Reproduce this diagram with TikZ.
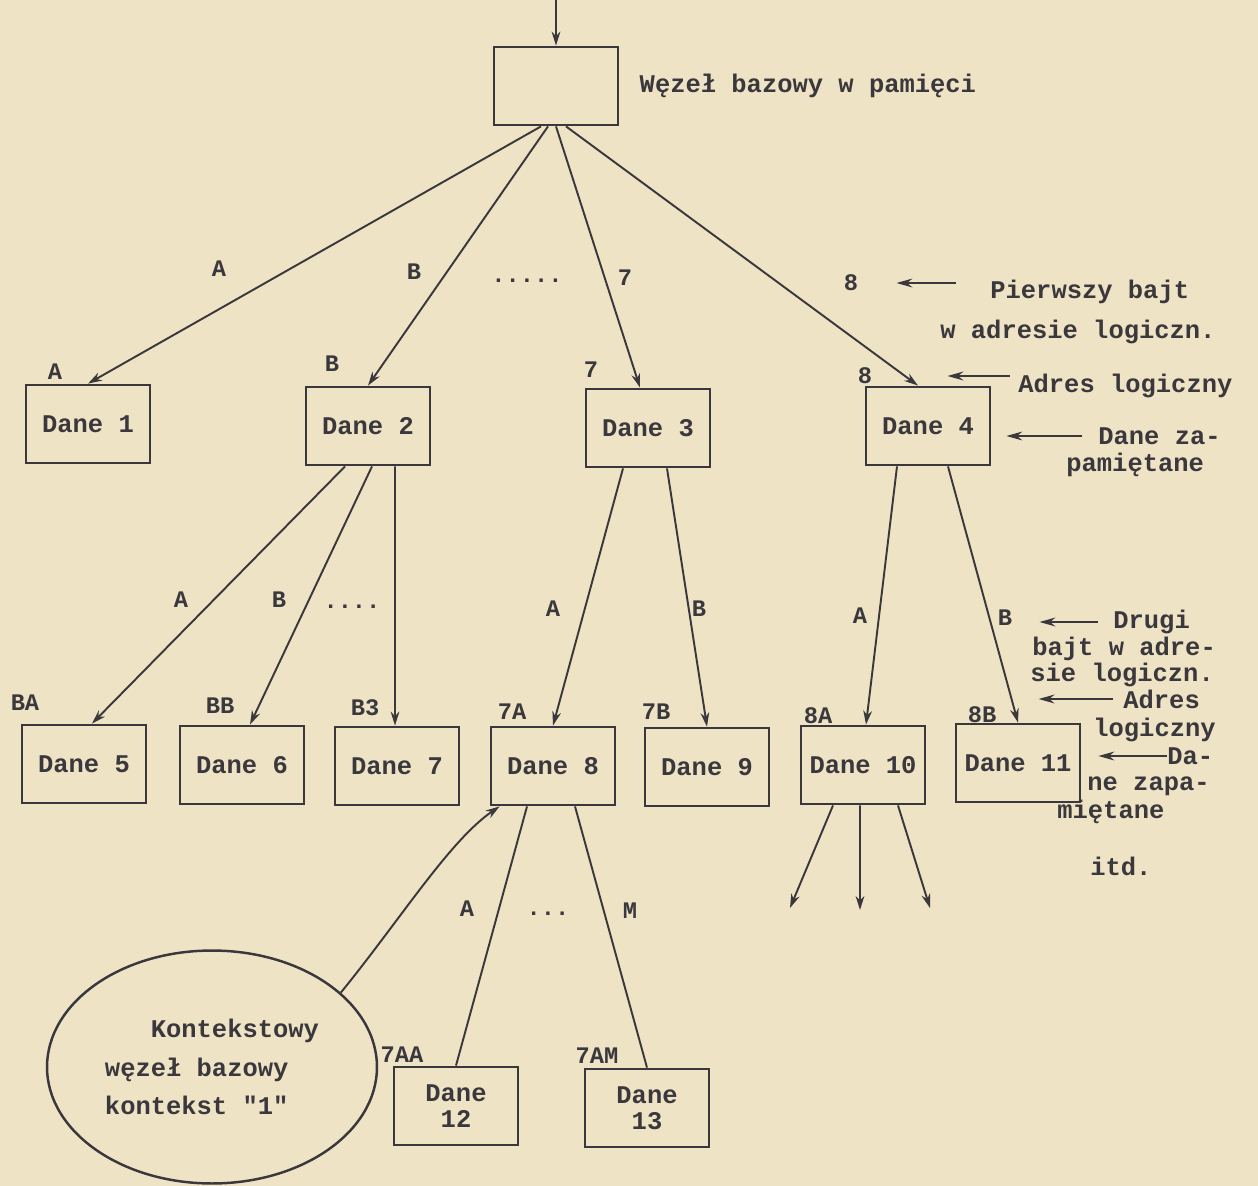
\documentclass[tikz,border=0pt]{standalone}
\usepackage{fontspec}
\setmonofont{Liberation Mono}
\usetikzlibrary{arrows.meta, positioning, calc, shapes.geometric}
\definecolor{PaperTone}{RGB}{239, 227, 198}
\definecolor{InkGray}{RGB}{58, 56, 60}

\tikzset{
  dane/.style={draw=InkGray, line width=1.6pt, minimum width=2.48cm, minimum height=1.56cm,
    inner sep=0pt, align=center, text=InkGray, font=\ttfamily\bfseries\fontsize{14.5}{15}\selectfont},
  ctx/.style={ellipse, draw=InkGray, line width=1.4pt, minimum width=6.6cm, minimum height=4.66cm,
    inner sep=0pt, align=left, text=InkGray, font=\ttfamily\bfseries\fontsize{14.5}{22}\selectfont},
  link/.style={draw=InkGray, line width=1.1pt},
  tip/.style={-{Stealth[length=8pt, width=5pt]}},
  tag/.style={inner sep=0pt, text=InkGray, font=\ttfamily\bfseries\fontsize{13.5}{14}\selectfont},
  note/.style={anchor=west, inner sep=0pt, text=InkGray, font=\ttfamily\bfseries\fontsize{14.5}{15}\selectfont},
  ptr/.style={draw=InkGray, line width=1.3pt, -{Stealth[length=9pt, width=5pt]}}
}

\begin{document}
\begin{tikzpicture}[x=0.02cm, y=-0.02cm]
  \fill[PaperTone] (0,0) rectangle (1258,1186);
  \useasboundingbox (0,0) rectangle (1258,1186);

  % base node
  \node[dane] (root) at (556,86) {};
  \node[note, right=0.4cm of root] (rootlbl) {Węzeł bazowy w pamięci};
  \coordinate (feed) at (556,0);
  \draw[link, tip] (feed) -- (root.north);

  % boxes
  \node[dane] (d1) at (88,424) {Dane 1};
  \node[dane] (d2) at (368,426) {Dane 2};
  \node[dane] (d3) at (648,428) {Dane 3};
  \node[dane] (d4) at (928,426) {Dane 4};
  \node[dane] (d5) at (84,764) {Dane 5};
  \node[dane] (d6) at (242,765) {Dane 6};
  \node[dane] (d7) at (397,766) {Dane 7};
  \node[dane] (d8) at (553,766) {Dane 8};
  \node[dane] (d9) at (707,767) {Dane 9};
  \node[dane] (d10) at (863,765) {Dane 10};
  \node[dane] (d11) at (1018,763) {Dane 11};
  \node[dane] (d12) at (456,1106) {Dane\\12};
  \node[dane] (d13) at (647,1108) {Dane\\13};
  \node[ctx] (kon) at (212,1067) {\phantom{xxx}Kontekstowy\\węzeł bazowy\\kontekst "1"};

  % address tags
  \node[tag] (tA) at (55,372) {A};
  \node[tag] (tB) at (332,364) {B};
  \node[tag] (t7) at (591,370) {7};
  \node[tag] (t8) at (865,376) {8};
  \node[tag] (tBA) at (25,703) {BA};
  \node[tag] (tBB) at (220,706) {BB};
  \node[tag] (tB3) at (365,708) {B3};
  \node[tag] (t7A) at (512,712) {7A};
  \node[tag] (t7B) at (656,712) {7B};
  \node[tag] (t8A) at (818,716) {8A};
  \node[tag] (t8B) at (982,715) {8B};
  \node[tag] (t7AA) at (402,1055) {7AA};
  \node[tag] (t7AM) at (597,1056) {7AM};

  % edge labels
  \node[tag] (eA1) at (219,269) {A};
  \node[tag] (eB1) at (414,272) {B};
  \node[tag] (dots1) at (527,281) {.....};
  \node[tag] (l7) at (625,278) {7};
  \node[tag] (l8) at (851,283) {8};
  \node[tag] (eA2) at (181,600) {A};
  \node[tag] (eB2) at (279,600) {B};
  \node[tag] (dots2) at (352,607) {....};
  \node[tag] (eA3) at (553,609) {A};
  \node[tag] (eB3) at (699,609) {B};
  \node[tag] (eA4) at (860,616) {A};
  \node[tag] (eB4) at (1005,618) {B};
  \node[tag] (eA5) at (467,909) {A};
  \node[tag] (dots3) at (548,914) {...};
  \node[tag] (eM5) at (630,911) {M};

  % tree edges
  \draw[link, tip] ([xshift=-0.3cm]root.south) -- (d1.north);
  \draw[link, tip] ([xshift=-0.16cm]root.south) -- (d2.north);
  \draw[link, tip] (root.south) -- ([xshift=-0.16cm]d3.north);
  \draw[link, tip] ([xshift=0.2cm]root.south) -- ([xshift=-0.2cm]d4.north);
  \draw[link, tip] ([xshift=-0.46cm]d2.south) -- ([xshift=0.16cm]d5.north);
  \draw[link, tip] ([xshift=0.08cm]d2.south) -- ([xshift=0.16cm]d6.north);
  \draw[link, tip] ([xshift=0.54cm]d2.south) -- ([xshift=-0.04cm]d7.north);
  \draw[link, tip] ([xshift=-0.5cm]d3.south) -- (d8.north);
  \draw[link, tip] ([xshift=0.38cm]d3.south) -- (d9.north);
  \draw[link, tip] ([xshift=-0.62cm]d4.south) -- ([xshift=0.06cm]d10.north);
  \draw[link, tip] ([xshift=0.4cm]d4.south) -- (d11.north);
  \draw[link] ([xshift=-0.52cm]d8.south) -- (d12.north);
  \draw[link] ([xshift=0.44cm]d8.south) -- (d13.north);

  % loose ends
  \coordinate (o1) at (790,908);
  \coordinate (o2) at (860,910);
  \coordinate (o3) at (930,908);
  \draw[link, tip] ([xshift=-0.6cm]d10.south) -- (o1);
  \draw[link, tip] ([xshift=-0.06cm]d10.south) -- (o2);
  \draw[link, tip] ([xshift=0.7cm]d10.south) -- (o3);

  % context link
  \draw[link, tip] (kon.30) .. controls (400,920) and (450,840) .. ([xshift=0.2cm]d8.south west);

  % notes
  \node[note] (nPb) at (990,292) {Pierwszy bajt};
  \node[note] (nWa) at (940,332) {w adresie logiczn.};
  \node[note] (nAl) at (1018,386) {Adres logiczny};
  \node[note] (nDz) at (1098,436) {Dane za-};
  \node[note] (nPa) at (1066,465) {pamiętane};
  \foreach \nm/\x/\y/\t in {nDr/1113/622/Drugi, nBw/1032/649/bajt w adre-, nSl/1030/675/sie logiczn.,
      nAd/1123/699/Adres, nLg/1093/730/logiczny, nDa/1167/756/Da-, nNz/1087/786/ne zapa-,
      nMt/1057/812/miętane, nItd/1090/866/itd.}
    \node[note] (\nm) at (\x,\y) {\t};

  \draw[ptr, shorten <=0.68cm, shorten >=0.76cm] (l8.east -| nPb.west) -- (l8.east);
  \draw[ptr, shorten <=0.16cm, shorten >=1.5cm] (t8.east -| nAl.west) -- (t8.east);
  \draw[ptr, shorten <=0.32cm, shorten >=0.3cm] (nDz.west) -- (nDz.west -| d4.east);
  \draw[ptr, shorten <=0.3cm, shorten >=0.54cm] (nDr.west) -- (nDr.west -| eB4.east);
  \draw[ptr, shorten <=0.2cm, shorten >=0.84cm] (nAd.west) -- (nAd.west -| t8B.east);
  \draw[ptr, shorten >=0.34cm] (nDa.west) -- (nDa.west -| d11.east);
\end{tikzpicture}
\end{document}
